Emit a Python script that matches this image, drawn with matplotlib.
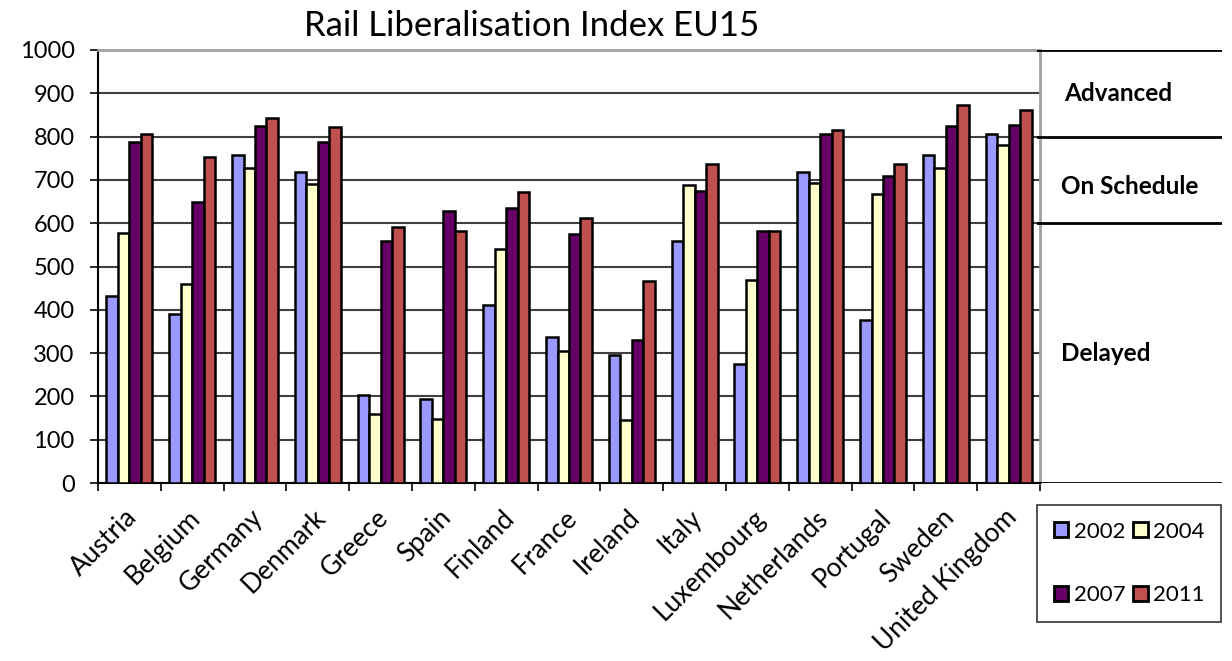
import matplotlib
matplotlib.use("Agg")
import matplotlib.pyplot as plt
import matplotlib.transforms as mtransforms
from matplotlib.patches import Patch
import numpy as np

# data
countries = ["Austria", "Belgium", "Germany", "Denmark", "Greece", "Spain", "Finland",
             "France", "Ireland", "Italy", "Luxembourg", "Netherlands", "Portugal",
             "Sweden", "United Kingdom"]
years = ["2002", "2004", "2007", "2011"]
v2002 = [431, 391, 758, 718, 204, 195, 411, 338, 296, 558, 275, 718, 377, 758, 807]
v2004 = [578, 460, 727, 691, 160, 148, 541, 304, 146, 688, 469, 692, 668, 727, 780]
v2007 = [788, 648, 825, 788, 558, 628, 634, 575, 331, 675, 581, 806, 708, 825, 827]
v2011 = [805, 752, 842, 822, 592, 582, 672, 612, 466, 736, 582, 815, 736, 872, 862]
bands = ["Advanced", "On Schedule", "Delayed"]
band_edges = [1000, 800, 600, 0]

colors = ["#9999FF", "#FFFFCC", "#660066", "#C0504D"]

plt.rcParams['font.family'] = ['Lato', 'DejaVu Sans']

fig = plt.figure(figsize=(12.32, 6.61), dpi=100)
ax = fig.add_axes([98/1232, 1-483/661, 942/1232, 433/661])

x = np.arange(len(countries))
w = 0.183
series = [v2002, v2004, v2007, v2011]
for i, vals in enumerate(series):
    ax.bar(x + (i - 1.5) * w, vals, width=w, color=colors[i], edgecolor="black",
           linewidth=1.8, zorder=3, label=years[i])

ax.set_xlim(-0.5, len(countries) - 0.5)
ax.set_ylim(0, 1000)
ax.set_yticks(np.arange(0, 1001, 100))
ax.yaxis.grid(True, color="#404040", linewidth=1.5, zorder=0)
ax.tick_params(axis="y", direction="out", length=5.8, width=1.2, labelsize=17, pad=11)

ax.set_xticks(x)
ax.set_xticklabels(countries, rotation=45, ha="right", va="center",
                   rotation_mode="anchor", fontsize=19)
ax.tick_params(axis="x", length=0, pad=22)
offset = mtransforms.ScaledTranslation(4/100, 0, fig.dpi_scale_trans)
for lab in ax.get_xticklabels():
    lab.set_transform(lab.get_transform() + offset)
ax.set_xticks(np.arange(-0.5, len(countries), 1), minor=True)
ax.tick_params(axis="x", which="minor", direction="out", length=6, width=1.2)

for s in ["left", "bottom"]:
    ax.spines[s].set_color("black")
    ax.spines[s].set_linewidth(1.5)
for s in ["top", "right"]:
    ax.spines[s].set_color("#A0A0A0")
    ax.spines[s].set_linewidth(2)

fig.text(532/1232, 1-26/661, "Rail Liberalisation Index EU15", fontsize=25,
         ha="center", va="center")

# status panel on the right
pax = fig.add_axes([1037/1232, 1-483/661, 185/1232, 433/661])
pax.set_xlim(0, 1)
pax.set_ylim(0, 1000)
pax.axis("off")
for e in band_edges:
    pax.axhline(e, color="black", linewidth=2)
pax.text(0.44, 900, bands[0], fontsize=17.5, fontweight="bold", ha="center", va="center")
pax.text(0.5, 685, bands[1], fontsize=17.5, fontweight="bold", ha="center", va="center")
pax.text(0.37, 300, bands[2], fontsize=17.5, fontweight="bold", ha="center", va="center")

# legend filled row by row: 2002 2004 / 2007 2011
order = [0, 2, 1, 3]
handles = [Patch(facecolor=colors[k], edgecolor="black", linewidth=2) for k in order]
labels = [years[k] for k in order]
leg = fig.legend(handles, labels, ncol=2, loc="upper left",
                 bbox_to_anchor=(1037/1232, 1-505/661), fontsize=16,
                 frameon=True, fancybox=False, edgecolor="black",
                 handlelength=0.65, handleheight=0.65, handletextpad=0.25,
                 columnspacing=0.35, labelspacing=1.95, borderpad=0.75,
                 borderaxespad=0)
leg.get_frame().set_linewidth(1.2)

fig.savefig("out.png", dpi=100)
